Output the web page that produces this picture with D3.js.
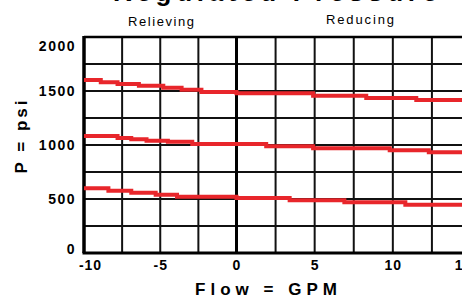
<!DOCTYPE html>
<html>
<head>
<meta charset="utf-8">
<script src="https://cdn.jsdelivr.net/npm/d3@7"></script>
<style>
  body { margin: 0; background: #fff; }
  svg { display: block; font-family: "Liberation Sans", Arial, sans-serif; }
</style>
</head>
<body>
<svg width="462" height="299"></svg>
<script>
// tick labels
var flowTicks = [-10, -5, 0, 5, 10, 15];
var psiTicks = [0, 500, 1000, 1500, 2000];

// step curves (flow in GPM, pressure in psi)
var highFlow = [-10, -8.9, -7.8, -6.4, -4.8, -3.6, -2.3, 0, 4.9, 8.3, 11.5, 15];
var highPsi  = [1602, 1581, 1565, 1549, 1531, 1512, 1491, 1479, 1456, 1435, 1417, 1417];

var midFlow = [-10, -7.8, -6.9, -5.9, -4.5, -2.9, 1.9, 4.9, 9.8, 12.3, 15];
var midPsi  = [1083, 1065, 1053, 1040, 1031, 1009, 988, 969, 951, 932, 932];

var lowFlow = [-10, -8.4, -6.9, -5.3, -3.9, 0, 3.4, 6.9, 10.8, 15];
var lowPsi  = [599, 577, 558, 540, 521, 509, 488, 469, 447, 447];

var svg = d3.select("svg");

// the original plot is a little wider right of zero than left of it
var x = d3.scaleLinear()
    .domain([-10, 0, 15])
    .range([84, 236.5, 471]);

var y = d3.scaleLinear()
    .domain([0, 2000])
    .range([253, 37]);

// grid
var grid = svg.append("g").attr("stroke", "#111").attr("stroke-width", 2);

grid.selectAll(".vline")
    .data(d3.range(-7.5, 15, 2.5).filter(function(d) { return d !== 0; }))
  .enter().append("line")
    .attr("x1", function(d) { return x(d); })
    .attr("x2", function(d) { return x(d); })
    .attr("y1", y(2000))
    .attr("y2", y(0));

grid.selectAll(".hline")
    .data(d3.range(250, 2000, 250))
  .enter().append("line")
    .attr("x1", x(-10))
    .attr("x2", 462)
    .attr("y1", function(d) { return y(d); })
    .attr("y2", function(d) { return y(d); });

// frame and zero line
var frame = svg.append("g").attr("stroke", "#000");
frame.append("line").attr("x1", x(-10)).attr("x2", 462)
    .attr("y1", y(2000)).attr("y2", y(2000)).attr("stroke-width", 2.5);
frame.append("line").attr("x1", x(-10) - 1.5).attr("x2", 462)
    .attr("y1", y(0)).attr("y2", y(0)).attr("stroke-width", 3);
frame.append("line").attr("x1", x(-10)).attr("x2", x(-10))
    .attr("y1", y(2000) - 1).attr("y2", y(0)).attr("stroke-width", 3.5);
frame.append("line").attr("x1", x(0)).attr("x2", x(0))
    .attr("y1", y(2000)).attr("y2", y(0)).attr("stroke-width", 3);

// curves
var line = d3.line()
    .x(function(d) { return x(d.flow); })
    .y(function(d) { return y(d.psi); })
    .curve(d3.curveStepAfter);

function toPoints(flows, psis) {
  return flows.map(function(f, i) { return { flow: f, psi: psis[i] }; });
}

svg.selectAll(".curve")
    .data([toPoints(highFlow, highPsi), toPoints(midFlow, midPsi), toPoints(lowFlow, lowPsi)])
  .enter().append("path")
    .attr("class", "curve")
    .attr("fill", "none")
    .attr("stroke", "#e8262b")
    .attr("stroke-width", 4)
    .attr("d", line);

// axes (labels only)
var yAxis = svg.append("g")
    .attr("transform", "translate(" + (x(-10) - 8) + ",0)")
    .call(d3.axisLeft(y).tickValues(psiTicks).tickFormat(String).tickSize(0).tickPadding(0));
yAxis.select(".domain").remove();
yAxis.selectAll("text")
    .attr("font-size", 14)
    .attr("font-weight", "bold")
    .attr("letter-spacing", 1.5)
    .attr("fill", "#000")
    .attr("dy", function(d) { return d === 2000 ? "0.95em" : d === 0 ? "0.05em" : "0.35em"; });

var xAxis = svg.append("g")
    .attr("transform", "translate(0," + (y(0) + 7) + ")")
    .call(d3.axisBottom(x).tickValues(flowTicks).tickFormat(String).tickSize(0).tickPadding(0));
xAxis.select(".domain").remove();
xAxis.selectAll("text")
    .attr("font-size", 14)
    .attr("font-weight", "bold")
    .attr("letter-spacing", 1)
    .attr("fill", "#000")
    .attr("dx", function(d) { return d === -10 ? 6 : d === 15 ? -8 : 0; });

// titles
svg.append("text")
    .attr("x", 113).attr("y", 1)
    .attr("font-size", 26).attr("font-weight", "bold")
    .attr("textLength", 324).attr("lengthAdjust", "spacing")
    .text("Regulated Pressure");

svg.append("text")
    .attr("x", 128).attr("y", 26)
    .attr("font-size", 13)
    .attr("textLength", 66).attr("lengthAdjust", "spacing")
    .text("Relieving");

svg.append("text")
    .attr("x", 326).attr("y", 24)
    .attr("font-size", 13)
    .attr("textLength", 68).attr("lengthAdjust", "spacing")
    .text("Reducing");

svg.append("text")
    .attr("x", 195).attr("y", 295)
    .attr("font-size", 17).attr("font-weight", "bold")
    .attr("textLength", 142).attr("lengthAdjust", "spacing")
    .text("Flow = GPM");

svg.append("text")
    .attr("transform", "translate(27,137) rotate(-90)")
    .attr("text-anchor", "middle")
    .attr("font-size", 17).attr("font-weight", "bold")
    .attr("textLength", 73).attr("lengthAdjust", "spacing")
    .text("P = psi");
</script>
</body>
</html>
